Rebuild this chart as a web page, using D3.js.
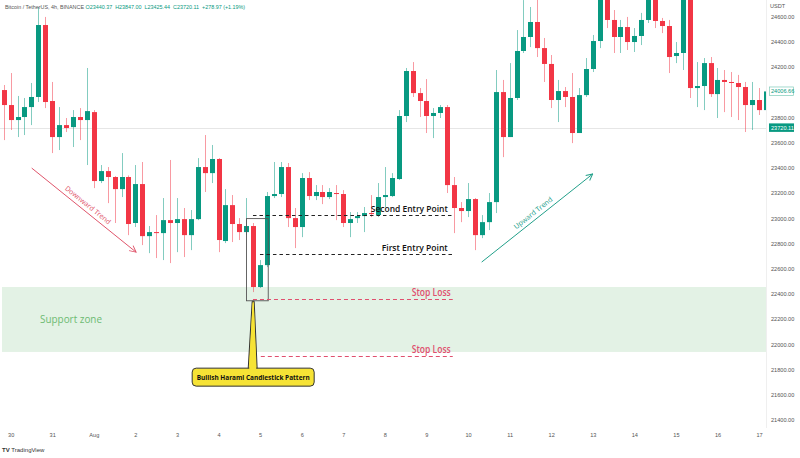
<!DOCTYPE html>
<html><head><meta charset="utf-8">
<script src="https://cdn.jsdelivr.net/npm/d3@7/dist/d3.min.js"></script>
<style>
html,body{margin:0;padding:0;background:#fff;}
svg{display:block;font-family:"Liberation Sans",Arial,sans-serif;}
</style></head><body>
<svg id="chart" width="800" height="458"></svg>
<script>
// ---- Data (BTC/USDT 4h candles) ----
const open = [24018,23899,23780,23804,23883,23963,24534,23931,23645,23740,
23724,23804,23780,23843,23296,23375,23328,23232,23328,22963,
23272,22859,22891,22883,22986,22963,22994,22867,22994,23407,
23359,23471,22820,23105,22955,22891,22939,22455,22629,23177,
23193,23407,23002,22931,23320,23177,23209,23169,23201,23193,
22963,23002,23018,23042,23026,23169,23177,23312,23812,24169,
23994,23931,23812,23836,23883,23264,23082,23058,23153,22867,
22970,23129,24002,23645,23955,24328,24439,24558,24351,24225,
23939,24010,23963,23677,23978,24185,24407,24750,24574,24439,
24518,24399,24447,24574,24760,24566,24526,24288,24312,24760,
24034,24050,24232,23986,24098,24082,24074,24042,23899,23939,23859];
const high = [24058,24153,23971,23955,24074,24677,24598,24082,23883,23796,
23859,23875,24193,23859,23423,23407,23335,23518,23340,23423,
23447,22939,23026,23161,23463,23161,23082,23066,23478,23661,
23582,23478,23232,23185,23002,23161,22963,22669,23209,23447,
23447,23439,23082,23359,23367,23264,23264,23240,23264,23224,
23050,23050,23090,23185,23280,23407,23359,23859,24193,24240,
24034,24105,23875,23899,23899,23328,23129,23280,23161,23026,
23201,24177,24098,24232,24494,24732,24677,24740,24431,24296,
24098,24042,24153,24034,24272,24455,24800,24800,24653,24574,
24598,24510,24630,24800,24800,24590,24574,24399,24800,24800,
24240,24272,24280,24193,24177,24161,24138,24082,24082,24034,24058];
const low = [23621,23701,23645,23661,23740,23923,23875,23518,23542,23685,
23566,23621,23423,23240,23280,23121,22963,23169,22867,22931,
22788,22724,22685,22669,22645,22732,22693,22748,22986,23209,
23280,22732,22804,22812,22828,22867,22415,22447,22613,23161,
23169,22931,22764,22851,23145,23145,23113,23153,22986,22931,
22851,22963,22891,23010,23010,23090,23169,23304,23764,23963,
23804,23677,23637,23796,23201,22883,22970,23010,22748,22843,
22907,23042,23486,23645,23939,24312,24359,24280,24082,23875,
23764,23883,23597,23677,23963,24161,24351,24510,24312,24312,
24336,24320,24375,24550,24510,24470,24153,24232,24177,23955,
23883,23859,23963,23796,23843,23804,23780,23685,23701,23820,23835];
const close = [23899,23780,23804,23883,23963,24534,23923,23645,23740,23717,
23804,23780,23851,23296,23375,23328,23232,23328,22955,23272,
22859,22891,22883,22986,22963,22994,22867,22994,23407,23359,
23471,22828,23105,22955,22891,22939,22455,22629,23177,23193,
23407,23002,22931,23320,23177,23209,23169,23209,23193,22963,
22994,23018,23042,23034,23169,23185,23320,23812,24169,23994,
23931,23812,23836,23883,23264,23082,23058,23153,22867,22970,
23129,24002,23645,23955,24328,24439,24558,24351,24225,23939,
24010,23963,23677,23978,24185,24407,24750,24574,24439,24518,
24399,24447,24574,24760,24566,24526,24280,24312,24760,24034,
24050,24232,23986,24098,24082,24074,24042,23899,23939,23859,24007];
const firstCandle = new Date(2022, 6, 29, 20); // 29 Jul 20:00, 4h candles
const priceTicks = [24600,24400,24200,23800,23600,23400,23200,23000,22800,22600,22400,22200,22000,21800,21600,21400];
const headerSymbol = "Bitcoin / TetherUS, 4h, BINANCE";
const headerValues = "O23440.37  H23847.00  L23425.44  C23720.11  +278.97 (+1.19%)";
const lastPrice = 23720.11, markPrice = 24006.66;
const supportZone = {top: 22455, bottom: 21940, label: "Support zone"};
// levels: [label, price, fromCandle, toCandle, kind]
const levels = [
  ["Second Entry Point", 23030, 35.97, 64.8, "entry"],
  ["First Entry Point", 22715, 36.98, 64.8, "entry"],
  ["Stop Loss", 22358, 35.97, 64.8, "stop"],
  ["Stop Loss", 21905, 37.1, 64.8, "stop"]
];
const haramiBox = {from: 34.96, to: 38.1, top: 23002, bottom: 22350};
const calloutText = "Bullish Harami Candlestick Pattern";
const calloutPrice = 21740;
const trends = [
  {label: "Downward Trend", c0: 4.04, p0: 23399, c1: 19.1, p1: 22732, color: "#e0556b"},
  {label: "Upward Trend", c0: 68.97, p0: 22653, c1: 84.99, p1: 23352, color: "#22a08a"}
];

// ---- Scales ----
const W = 800, H = 458, plotRight = 766, plotBottom = 428;
const n = open.length;
const times = d3.range(n).map(i => d3.timeHour.offset(firstCandle, 4 * i));
const x = d3.scaleTime().domain([firstCandle, d3.timeHour.offset(firstCandle, 4 * 110)]).range([3.7, 766]);
const xc = c => x(d3.timeMinute.offset(firstCandle, Math.round(c * 240)));
const y = d3.scaleLinear().domain([21400, 24600]).range([420, 16.7]);
const GREEN = "#089981", RED = "#f23645";

const svg = d3.select("#chart");
svg.append("defs").append("clipPath").attr("id", "plot")
  .append("rect").attr("x", 0).attr("y", 0).attr("width", plotRight).attr("height", plotBottom);

// support zone
svg.append("rect").attr("x", 2).attr("width", plotRight - 2)
  .attr("y", y(supportZone.top)).attr("height", y(supportZone.bottom) - y(supportZone.top))
  .attr("fill", "#e3f2e5");
svg.append("text").attr("x", 40).attr("y", (y(supportZone.top) + y(supportZone.bottom)) / 2 + 4)
  .attr("font-family", "'Open Sans',sans-serif").attr("font-size", 10.5)
  .attr("fill", "#6dbb72").attr("textLength", 62).attr("lengthAdjust", "spacingAndGlyphs")
  .text(supportZone.label);

// axis separator
svg.append("line").attr("x1", plotRight + 0.5).attr("x2", plotRight + 0.5).attr("y1", 0).attr("y2", plotBottom)
  .attr("stroke", "#efefef");

// last price line
svg.append("line").attr("x1", 0).attr("x2", plotRight).attr("y1", Math.round(y(lastPrice)) + 0.5).attr("y2", Math.round(y(lastPrice)) + 0.5)
  .attr("stroke", "#e6e6e6").attr("stroke-width", 1);

// candles
const g = svg.append("g").attr("clip-path", "url(#plot)");
const cs = g.selectAll("g.c").data(d3.range(n)).join("g");
cs.append("line")
  .attr("x1", i => Math.round(x(times[i])) + 0.5).attr("x2", i => Math.round(x(times[i])) + 0.5)
  .attr("y1", i => y(high[i])).attr("y2", i => y(low[i]))
  .attr("stroke", i => close[i] >= open[i] ? GREEN : RED).attr("stroke-opacity", 0.5);
cs.append("rect")
  .attr("x", i => Math.round(x(times[i])) - 2)
  .attr("width", 5)
  .attr("y", i => y(Math.max(open[i], close[i])))
  .attr("height", i => Math.max(1, Math.abs(y(open[i]) - y(close[i]))))
  .attr("fill", i => close[i] >= open[i] ? GREEN : RED);

// harami box
svg.append("rect").attr("x", xc(haramiBox.from) + 0.5).attr("y", y(haramiBox.top) + 0.5)
  .attr("width", xc(haramiBox.to) - xc(haramiBox.from)).attr("height", y(haramiBox.bottom) - y(haramiBox.top))
  .attr("fill", "none").attr("stroke", "#555").attr("stroke-width", 0.9);

// levels
levels.forEach(([label, price, c0, c1, kind]) => {
  const col = kind === "entry" ? "#222" : "#e0506e";
  const yy = Math.round(y(price)) + 0.5;
  svg.append("line").attr("x1", xc(c0)).attr("x2", xc(c1)).attr("y1", yy).attr("y2", yy)
    .attr("stroke", col).attr("stroke-width", 1).attr("stroke-dasharray", kind === "entry" ? "3.5,3" : "4,3");
  const len = {"Second Entry Point": 77, "First Entry Point": 66, "Stop Loss": 39}[label];
  svg.append("text").attr("x", xc(c1) - (kind === "entry" ? 5 : 2)).attr("y", yy - 4).attr("text-anchor", "end")
    .attr("font-family", "'Open Sans',sans-serif").attr("font-weight", 600).attr("font-size", kind === "entry" ? 9.5 : 10)
    .attr("fill", kind === "entry" ? "#111" : "#e0506e")
    .attr("textLength", len).attr("lengthAdjust", "spacingAndGlyphs").text(label);
});

// trend arrows
const defs = svg.select("defs");
trends.forEach((t, k) => {
  defs.append("marker").attr("id", "arr" + k).attr("viewBox", "0 0 10 10").attr("refX", 9).attr("refY", 5)
    .attr("markerWidth", 8).attr("markerHeight", 8).attr("markerUnits", "userSpaceOnUse").attr("orient", "auto")
    .append("path").attr("d", "M1,1 L9,5 L1,9").attr("fill", "none").attr("stroke", t.color).attr("stroke-width", 1.2);
  const x0 = xc(t.c0), y0 = y(t.p0), x1 = xc(t.c1), y1 = y(t.p1);
  svg.append("line").attr("x1", x0).attr("y1", y0).attr("x2", x1).attr("y2", y1)
    .attr("stroke", t.color).attr("stroke-width", 1).attr("marker-end", `url(#arr${k})`);
  const ang = Math.atan2(y1 - y0, x1 - x0) * 180 / Math.PI;
  const mx = (x0 + x1) / 2, my = (y0 + y1) / 2;
  svg.append("text").attr("transform", `translate(${mx},${my}) rotate(${ang}) translate(0,-4)`)
    .attr("text-anchor", "middle").attr("font-size", 7).attr("fill", t.color)
    .attr("font-family", "'Open Sans',sans-serif").text(t.label);
});

// callout
const tipX = xc(36), tipY = y(haramiBox.bottom) + 1;
const cy = y(calloutPrice);
const bw = 122, bh = 18;
svg.append("path")
  .attr("d", `M${tipX - 5},${cy - bh / 2 + 1} L${tipX - 1},${tipY} L${tipX + 1},${tipY} L${tipX + 4},${cy - bh / 2 + 1}`)
  .attr("fill", "#f6e335").attr("stroke", "#333").attr("stroke-width", 1);
svg.append("rect").attr("x", tipX - 61).attr("y", cy - bh / 2).attr("width", bw).attr("height", bh)
  .attr("rx", 4).attr("fill", "#f6e335").attr("stroke", "#333").attr("stroke-width", 1);
svg.append("path")
  .attr("d", `M${tipX - 4},${cy - bh / 2 + 1.5} L${tipX - 0.6},${tipY + 2} L${tipX + 0.6},${tipY + 2} L${tipX + 3},${cy - bh / 2 + 1.5}`)
  .attr("fill", "#f6e335");
svg.append("text").attr("x", tipX).attr("y", cy + 2.5).attr("text-anchor", "middle")
  .attr("font-family", "'Open Sans',sans-serif").attr("font-weight", 700).attr("font-size", 7)
  .attr("fill", "#111").attr("textLength", 113).attr("lengthAdjust", "spacingAndGlyphs").text(calloutText);

// y axis
const yAxis = d3.axisRight(y).tickValues(priceTicks).tickSize(0).tickPadding(0).tickFormat(d => d.toFixed(2));
const ya = svg.append("g").attr("transform", `translate(771,0)`).call(yAxis);
ya.select(".domain").remove();
ya.selectAll("text").attr("font-size", 5.6).attr("fill", "#555").attr("font-family", "'Liberation Sans',Arial,sans-serif");
svg.append("text").attr("x", 770).attr("y", 8).attr("font-size", 5.6).attr("fill", "#555").text("USDT");

// price labels
const pm = y(markPrice);
svg.append("rect").attr("x", 769.5).attr("y", pm - 4.5).attr("width", 24).attr("height", 8.5)
  .attr("fill", "#fff").attr("stroke", "#7fcab8").attr("stroke-width", 0.7);
svg.append("text").attr("x", 771).attr("y", pm + 2).attr("font-size", 5.6).attr("fill", GREEN).text(markPrice.toFixed(2));
const pl = y(lastPrice);
svg.append("rect").attr("x", 769).attr("y", pl - 4.2).attr("width", 25).attr("height", 8.5).attr("fill", GREEN);
svg.append("text").attr("x", 771).attr("y", pl + 2).attr("font-size", 5.6).attr("fill", "#fff").text(lastPrice.toFixed(2));

// x axis
const xAxis = d3.axisBottom(x).ticks(d3.timeDay.every(1)).tickSize(0).tickPadding(0)
  .tickFormat(d => d.getDate() === 1 ? d3.timeFormat("%b")(d) : d.getDate());
const xa = svg.append("g").attr("transform", `translate(0,433)`).call(xAxis);
xa.select(".domain").remove();
xa.selectAll("text").attr("font-size", 5.6).attr("fill", "#555").attr("font-family", "'Liberation Sans',Arial,sans-serif");

// header
const hd = svg.append("text").attr("x", 5).attr("y", 9).attr("font-size", 5.4);
hd.append("tspan").attr("fill", "#555").text(headerSymbol + "  ");
hd.append("tspan").attr("fill", GREEN).attr("xml:space", "preserve").text(headerValues);

// logo
const lg = svg.append("text").attr("x", 2).attr("y", 452).attr("font-size", 6).attr("fill", "#333");
lg.append("tspan").attr("font-weight", 700).text("TV ");
lg.append("tspan").text("TradingView");
</script>
</body></html>
